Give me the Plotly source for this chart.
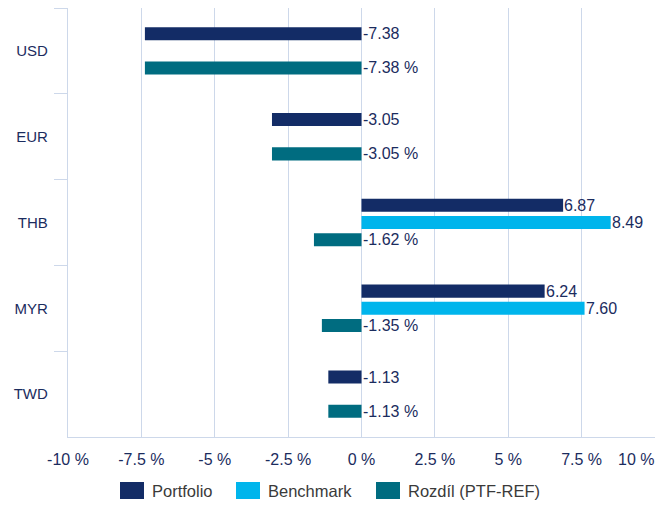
import plotly.graph_objects as go

categories = ["USD", "EUR", "THB", "MYR", "TWD"]
portfolio = [-7.38, -3.05, 6.87, 6.24, -1.13]
benchmark = [None, None, 8.49, 7.60, None]
rozdil = [-7.38, -3.05, -1.62, -1.35, -1.13]
series_names = ["Portfolio", "Benchmark", "Rozdíl (PTF-REF)"]

tick_vals = [-10, -7.5, -5, -2.5, 0, 2.5, 5, 7.5, 10]
tick_text = ["-10 %", "-7.5 %", "-5 %", "-2.5 %", "0 %", "2.5 %", "5 %", "7.5 %", "10 %"]

C_PTF = "#132c66"
C_BEN = "#00b5ec"
C_DIF = "#006c80"
colors = [C_PTF, C_BEN, C_DIF]
TXT = "#1b2c5e"
GRID = "#cdd8ea"
FONT = "Liberation Sans, Arial, sans-serif"

# page body has an 8px margin: figure sized to fit the window
OFF = 8
W, H = 665 - OFF, 505 - OFF
# plot area in screen pixels: x 68..655, y 8..437
ML = 68 - OFF
MT = 8 - OFF
MR = W - (655 - OFF)
MB = H - (437 - OFF)
PW, PH = W - ML - MR, H - MT - MB


def px_x(sx):
    return (sx - OFF - ML) / PW


def px_y(sy):
    return (H - MB - (sy - OFF)) / PH


fig = go.Figure()
for name, vals, col in zip(series_names, [portfolio, benchmark, rozdil], colors):
    fig.add_bar(y=categories, x=vals, orientation="h", name=name, marker_color=col,
                marker_line_width=0)

SLOT = 17
annotations = []
for series, shift, suffix in [(portfolio, SLOT, ""), (benchmark, 0, ""), (rozdil, -SLOT, " %")]:
    for cat, v in zip(categories, series):
        if v is None:
            continue
        annotations.append(dict(
            x=max(v, 0), y=cat, xref="x", yref="y",
            text=f"{v:.2f}{suffix}", showarrow=False,
            xanchor="left", yanchor="middle", xshift=-1, yshift=shift,
            font=dict(family=FONT, size=16, color=TXT),
        ))

# last tick label shifted inside the canvas like the reference
shown_ticktext = tick_text[:-1] + [""]
annotations.append(dict(
    x=tick_vals[-1], y=px_y(459), xref="x", yref="paper", text=tick_text[-1],
    showarrow=False, xanchor="right", yanchor="middle", xshift=1,
    font=dict(family=FONT, size=16, color=TXT),
))

# custom legend (larger swatches)
shapes = []
legend_sq_x = [120, 236, 376]
for name, col, sx in zip(series_names, colors, legend_sq_x):
    shapes.append(dict(type="rect", xref="paper", yref="paper",
                       x0=px_x(sx), x1=px_x(sx + 24), y0=px_y(499), y1=px_y(482),
                       fillcolor=col, line_width=0))
    annotations.append(dict(x=px_x(sx + 30), y=px_y(491), xref="paper", yref="paper",
                            text=name, showarrow=False, xanchor="left", yanchor="middle",
                            font=dict(family=FONT, size=16.5, color="#3a3a3a")))

fig.update_layout(
    width=W, height=H,
    margin=dict(l=ML, r=MR, t=MT, b=MB),
    barmode="group", bargap=0.4, bargroupgap=0.24,
    plot_bgcolor="white", paper_bgcolor="white",
    font=dict(family=FONT, size=15, color=TXT),
    annotations=annotations,
    shapes=shapes,
    showlegend=False,
    xaxis=dict(range=[-10, 10], tickvals=tick_vals, ticktext=shown_ticktext,
               showgrid=True, gridcolor=GRID, gridwidth=1.3, zeroline=False,
               showline=True, linecolor=GRID, linewidth=1.3, ticks="",
               ticklabelstandoff=8,
               automargin=False, tickfont=dict(color=TXT, size=16)),
    yaxis=dict(autorange="reversed", showgrid=False, zeroline=False,
               showline=True, linecolor=GRID, linewidth=1.3,
               ticks="outside", tickson="boundaries", ticklen=13, tickcolor=GRID, tickwidth=1.3,
               ticklabelstandoff=16,
               automargin=False, tickfont=dict(color=TXT, size=15)),
)

fig.write_html("out.html")
